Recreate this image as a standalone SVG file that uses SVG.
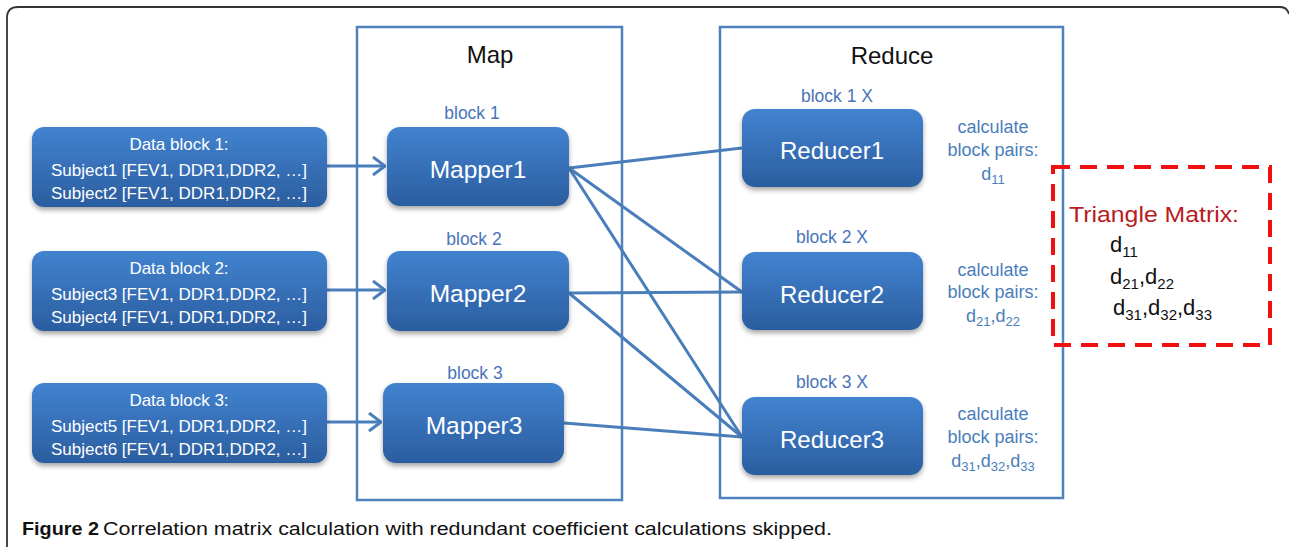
<svg xmlns="http://www.w3.org/2000/svg" width="1289" height="547" viewBox="0 0 1289 547">
<defs>
<linearGradient id="g" x1="0" y1="0" x2="0" y2="1">
<stop offset="0" stop-color="#4283d0"/>
<stop offset="1" stop-color="#2b5d9f"/>
</linearGradient>
<filter id="sh" x="-10%" y="-10%" width="120%" height="135%">
<feDropShadow dx="0" dy="3" stdDeviation="2.5" flood-color="#000" flood-opacity="0.35"/>
</filter>
<marker id="arr" viewBox="0 0 14 20" refX="13" refY="10" markerWidth="14" markerHeight="20" markerUnits="userSpaceOnUse" orient="auto">
<path d="M1,1 L13,10 L1,19" fill="none" stroke="#4a7ebb" stroke-width="3"/>
</marker>
<style>
.box{fill:url(#g);filter:url(#sh)}
.stage{fill:none;stroke:#4f81bd;stroke-width:2.5}
.wt{font-family:"Liberation Sans",Arial,sans-serif;fill:#fff;text-anchor:middle}
.lbl{font-family:"Liberation Sans",Arial,sans-serif;fill:#4a74b8;text-anchor:middle;font-size:17.5px}
.calc{font-family:"Liberation Sans",Arial,sans-serif;fill:#4a7ebb;text-anchor:middle;font-size:18px}
.hd{font-family:"Liberation Sans",Arial,sans-serif;fill:#111;text-anchor:middle;font-size:24px}
.con{stroke:#4a7ebb;stroke-width:3;fill:none}
.tm{font-family:"Liberation Sans",Arial,sans-serif;fill:#111;font-size:22px}
</style>
</defs>
<rect width="1289" height="547" fill="#fff"/>
<path d="M7,547 L7,18 Q7,7 18,7 L1280,7 Q1287,7 1289,14" fill="none" stroke="#333" stroke-width="1.8"/>

<g id="map-stage">
<rect class="stage" x="357" y="27" width="265" height="473"/>
<text class="hd" x="490" y="63">Map</text>
</g>
<g id="reduce-stage">
<rect class="stage" x="720" y="27" width="343" height="471"/>
<text class="hd" x="892" y="64">Reduce</text>
</g>

<g id="connectors">
<line class="con" x1="327" y1="166" x2="385" y2="166" marker-end="url(#arr)"/>
<line class="con" x1="327" y1="290" x2="385" y2="290" marker-end="url(#arr)"/>
<line class="con" x1="327" y1="422" x2="381" y2="422" marker-end="url(#arr)"/>
<line class="con" x1="569" y1="168" x2="742" y2="148"/>
<line class="con" x1="569" y1="168" x2="742" y2="292"/>
<line class="con" x1="569" y1="168" x2="742" y2="437"/>
<line class="con" x1="569" y1="293" x2="742" y2="292"/>
<line class="con" x1="569" y1="293" x2="742" y2="437"/>
<line class="con" x1="564" y1="423" x2="742" y2="437"/>
</g>

<g id="data1">
<rect class="box" x="32" y="127" width="295" height="80" rx="12"/>
<text class="wt" font-size="17" x="179" y="150">Data block 1:</text>
<text class="wt" font-size="17" x="179" y="176">Subject1 [FEV1, DDR1,DDR2, …]</text>
<text class="wt" font-size="17" x="179" y="199">Subject2 [FEV1, DDR1,DDR2, …]</text>
</g>
<g id="data2">
<rect class="box" x="32" y="251" width="295" height="80" rx="12"/>
<text class="wt" font-size="17" x="179" y="274">Data block 2:</text>
<text class="wt" font-size="17" x="179" y="300">Subject3 [FEV1, DDR1,DDR2, …]</text>
<text class="wt" font-size="17" x="179" y="323">Subject4 [FEV1, DDR1,DDR2, …]</text>
</g>
<g id="data3">
<rect class="box" x="32" y="383" width="295" height="80" rx="12"/>
<text class="wt" font-size="17" x="179" y="406">Data block 3:</text>
<text class="wt" font-size="17" x="179" y="432">Subject5 [FEV1, DDR1,DDR2, …]</text>
<text class="wt" font-size="17" x="179" y="455">Subject6 [FEV1, DDR1,DDR2, …]</text>
</g>

<g id="mapper1">
<text class="lbl" x="472" y="119">block 1</text>
<rect class="box" x="387" y="127" width="182" height="79" rx="13"/>
<text class="wt" font-size="24.5" x="478" y="178">Mapper1</text>
</g>
<g id="mapper2">
<text class="lbl" x="474" y="245">block 2</text>
<rect class="box" x="387" y="251" width="182" height="80" rx="13"/>
<text class="wt" font-size="24.5" x="478" y="302">Mapper2</text>
</g>
<g id="mapper3">
<text class="lbl" x="475" y="379">block 3</text>
<rect class="box" x="383" y="383" width="181" height="80" rx="13"/>
<text class="wt" font-size="24.5" x="474" y="434">Mapper3</text>
</g>

<g id="reducer1">
<text class="lbl" x="837" y="102">block 1 X</text>
<rect class="box" x="742" y="109" width="181" height="78" rx="13"/>
<text class="wt" font-size="24" x="832" y="159">Reducer1</text>
<text class="calc" x="993" y="133">calculate</text>
<text class="calc" x="993" y="156">block pairs:</text>
<text class="calc" x="993" y="180">d<tspan font-size="13" dy="4">11</tspan></text>
</g>
<g id="reducer2">
<text class="lbl" x="832" y="243">block 2 X</text>
<rect class="box" x="742" y="252" width="181" height="78" rx="13"/>
<text class="wt" font-size="24" x="832" y="303">Reducer2</text>
<text class="calc" x="993" y="276">calculate</text>
<text class="calc" x="993" y="298">block pairs:</text>
<text class="calc" x="993" y="322">d<tspan font-size="13" dy="4">21</tspan><tspan dy="-4">,d</tspan><tspan font-size="13" dy="4">22</tspan></text>
</g>
<g id="reducer3">
<text class="lbl" x="832" y="388">block 3 X</text>
<rect class="box" x="742" y="397" width="181" height="78" rx="13"/>
<text class="wt" font-size="24" x="832" y="448">Reducer3</text>
<text class="calc" x="993" y="420">calculate</text>
<text class="calc" x="993" y="443">block pairs:</text>
<text class="calc" x="993" y="467">d<tspan font-size="13" dy="4">31</tspan><tspan dy="-4">,d</tspan><tspan font-size="13" dy="4">32</tspan><tspan dy="-4">,d</tspan><tspan font-size="13" dy="4">33</tspan></text>
</g>

<g id="triangle-matrix">
<rect x="1053" y="167" width="217" height="178" fill="none" stroke="#f01010" stroke-width="4" stroke-dasharray="17,10"/>
<text x="1069" y="222" font-family="'Liberation Sans',Arial,sans-serif" font-size="22" fill="#b81c22" textLength="170" lengthAdjust="spacingAndGlyphs">Triangle Matrix:</text>
<text class="tm" x="1110" y="252">d<tspan font-size="15" dy="5">11</tspan></text>
<text class="tm" x="1110" y="284">d<tspan font-size="15" dy="5">21</tspan><tspan dy="-5">,d</tspan><tspan font-size="15" dy="5">22</tspan></text>
<text class="tm" x="1113" y="315">d<tspan font-size="15" dy="5">31</tspan><tspan dy="-5">,d</tspan><tspan font-size="15" dy="5">32</tspan><tspan dy="-5">,d</tspan><tspan font-size="15" dy="5">33</tspan></text>
</g>

<g id="caption">
<text x="22" y="535" font-family="'Liberation Sans',Arial,sans-serif" font-size="17.5" font-weight="bold" fill="#111" textLength="77" lengthAdjust="spacingAndGlyphs">Figure 2</text>
<text x="103" y="535" font-family="'Liberation Sans',Arial,sans-serif" font-size="17.5" fill="#111" textLength="729" lengthAdjust="spacingAndGlyphs">Correlation matrix calculation with redundant coefficient calculations skipped.</text>
</g>
</svg>
